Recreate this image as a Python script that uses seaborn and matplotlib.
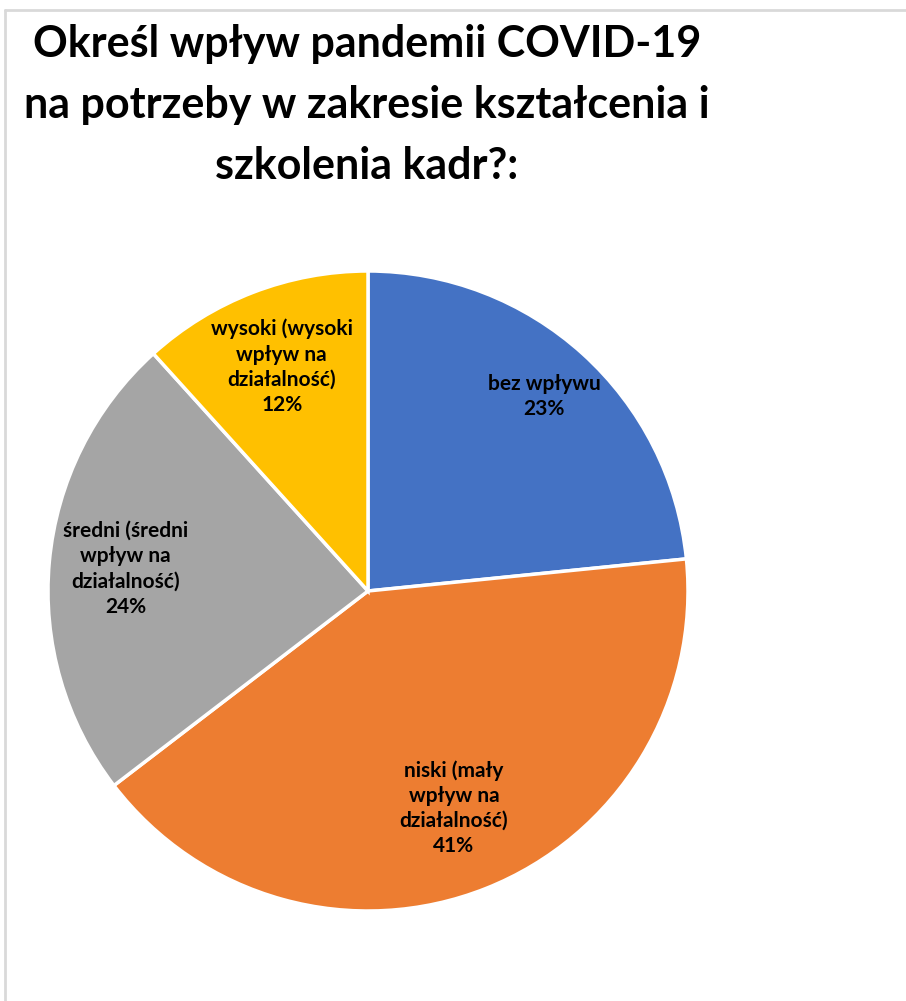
import numpy as np
import matplotlib
matplotlib.use("Agg")
import matplotlib.pyplot as plt
import seaborn as sns
from matplotlib.lines import Line2D

categories = ["bez wpływu", "niski (mały\nwpływ na\ndziałalność)",
              "średni (średni\nwpływ na\ndziałalność)", "wysoki (wysoki\nwpływ na\ndziałalność)"]
values = [23.4, 41.2, 23.7, 11.7]
title = "Określ wpływ pandemii COVID-19\nna potrzeby w zakresie kształcenia i\nszkolenia kadr?:"

sns.set_theme(style="white")
plt.rcParams['font.family'] = ['Lato', 'DejaVu Sans']
colors = sns.color_palette(["#4472C4", "#ED7D31", "#A5A5A5", "#FFC000"])

fig = plt.figure(figsize=(9.06, 10.01), dpi=100)
fig.patch.set_facecolor("white")

# light grey chart-area border (top and left visible)
fig.add_artist(Line2D([5/906, 5/906], [0, 1 - 10/1001], transform=fig.transFigure,
                      color="#D9D9D9", lw=2))
fig.add_artist(Line2D([5/906, 1], [1 - 10/1001, 1 - 10/1001], transform=fig.transFigure,
                      color="#D9D9D9", lw=2))

cx, cy, r = 368, 591, 320
ax = fig.add_axes([(cx - r) / 906, 1 - (cy + r) / 1001, 2 * r / 906, 2 * r / 1001])
wedges, _ = ax.pie(values, colors=colors, startangle=90, counterclock=False,
                   radius=1.0, wedgeprops=dict(edgecolor="white", linewidth=2.5))
ax.set_xlim(-1, 1)
ax.set_ylim(-1, 1)
ax.set_aspect("equal")
ax.axis("off")

total = sum(values)
dists = [0.82, 0.73, 0.76, 0.75]
for w, cat, v, d in zip(wedges, categories, values, dists):
    ang = np.deg2rad((w.theta1 + w.theta2) / 2)
    ax.text(d * np.cos(ang), d * np.sin(ang), f"{cat}\n{round(100 * v / total)}%",
            ha="center", va="center", fontsize=15, fontweight="bold",
            color="black", linespacing=1.33)

fig.text(367/906, 1 - 105/1001, title, ha="center", va="center",
         fontsize=31, fontweight="bold", color="black", linespacing=1.64)

fig.savefig("out.png", dpi=100, facecolor="white")
